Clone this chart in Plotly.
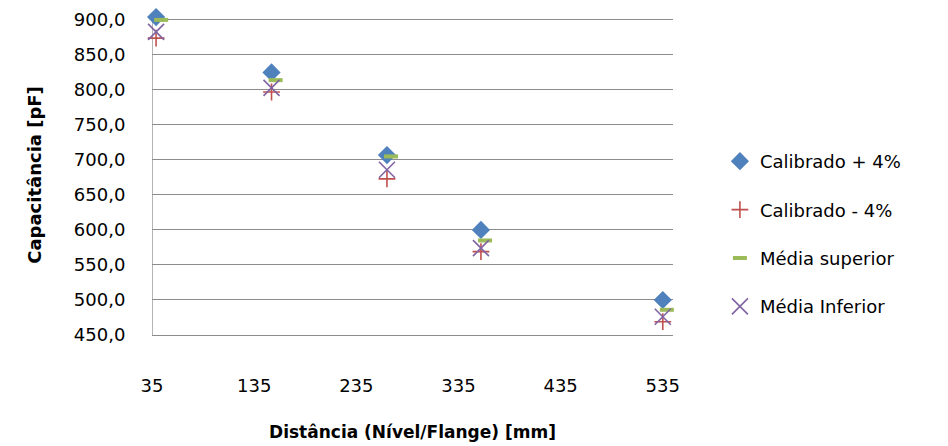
import plotly.graph_objects as go

# Distance between level and flange [mm]
distancia = [39, 152, 265, 357, 535]
distancia_media_sup = [44, 156, 269, 361, 539]

# Capacitance readings [pF]
calibrado_mais = [904, 825, 707, 600, 500]
calibrado_menos = [874, 797, 673, 569, 469]
media_superior = [900, 814, 705, 585, 486]
media_inferior = [883, 803, 686, 574, 476]

x_ticks = [35, 135, 235, 335, 435, 535]
y_ticks = [450, 500, 550, 600, 650, 700, 750, 800, 850, 900]
y_min, y_top_grid, y_max = 450, 900, 907

font_family = "'DejaVu Sans', sans-serif"
grid = "#8c8c8c"

fig = go.Figure()
fig.add_trace(go.Scatter(
    x=distancia, y=calibrado_mais, mode="markers", name="Calibrado + 4%",
    legendgroup="a", cliponaxis=False,
    marker=dict(symbol="diamond", size=14, color="#4F81BD",
                line=dict(width=0)),
))
fig.add_trace(go.Scatter(
    x=distancia, y=calibrado_menos, mode="markers", name="Calibrado - 4%",
    legendgroup="b", cliponaxis=False,
    marker=dict(symbol="cross-thin", size=12, color="#C0504D",
                line=dict(width=1.6, color="#C0504D")),
))
fig.add_trace(go.Scatter(
    x=distancia_media_sup, y=media_superior, mode="markers", name="Média superior",
    legendgroup="c", cliponaxis=False,
    marker=dict(symbol="line-ew", size=10, color="#9BBB59",
                line=dict(width=4, color="#9BBB59")),
))
fig.add_trace(go.Scatter(
    x=distancia, y=media_inferior, mode="markers", name="Média Inferior",
    legendgroup="d", cliponaxis=False,
    marker=dict(symbol="x-thin", size=16, color="#8064A2",
                line=dict(width=1.6, color="#8064A2")),
))

# vertical value axis line, running from the bottom to the top gridline
fig.add_shape(type="line", xref="x", yref="y", layer="below",
              x0=35, x1=35, y0=y_min, y1=y_top_grid,
              line=dict(color=grid, width=1.3))

fig.update_layout(
    width=948, height=446,
    margin=dict(l=152, r=275, t=20 - (y_max - y_top_grid) * 0.7, b=111),
    paper_bgcolor="white", plot_bgcolor="white",
    separators=",.",
    font=dict(family=font_family, size=18, color="#000000"),
    showlegend=True,
    legend=dict(
        xref="container", yref="container",
        x=0.7594, y=1 - 143 / 446, xanchor="left", yanchor="top",
        traceorder="grouped", tracegroupgap=22,
        font=dict(size=18, family=font_family),
        bgcolor="rgba(0,0,0,0)", itemwidth=30,
    ),
)

fig.update_xaxes(
    range=[35, 545], tickvals=x_ticks, ticktext=[str(v) for v in x_ticks],
    automargin=False,
    showgrid=False, zeroline=False,
    showline=True, linecolor=grid, linewidth=1.3,
    ticks="outside", ticklen=34, tickcolor="rgba(0,0,0,0)",
    tickfont=dict(size=18),
    title=dict(text="<b>Distância (Nível/Flange) [mm]</b>",
               font=dict(size=17), standoff=31),
)
fig.update_yaxes(
    range=[y_min, y_max], tickvals=y_ticks, tickformat=".1f",
    automargin=False,
    showgrid=True, gridcolor=grid, gridwidth=1.3,
    zeroline=False, showline=False,
    ticks="outside", ticklen=22, tickcolor="rgba(0,0,0,0)",
    tickfont=dict(size=18),
    title=dict(text="<b>Capacitância [pF]</b>", font=dict(size=18), standoff=27),
)

fig.write_html("out.html")
